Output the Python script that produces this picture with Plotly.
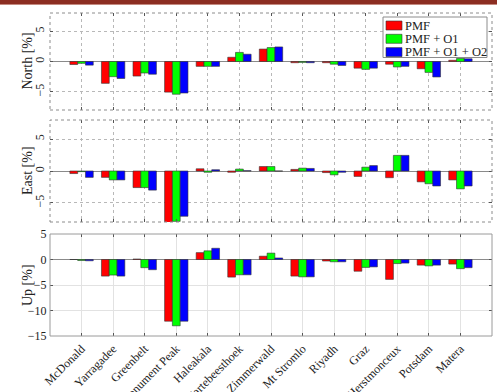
import plotly.graph_objects as go

# SLR station scale differences per component and solution
stations = ["McDonald", "Yarragadee", "Greenbelt", "Monument Peak", "Haleakala",
            "Hartebeesthoek", "Zimmerwald", "Mt Stromlo", "Riyadh", "Graz",
            "Herstmonceux", "Potsdam", "Matera"]

series_names = ["PMF", "PMF + O1", "PMF + O1 + O2"]
series_colors = ["#ff0000", "#00ff00", "#0000ff"]

north_pmf = [-0.5, -3.6, -2.4, -5.05, -0.8, 0.7, 2.05, -0.2, -0.2, -1.1, -0.45, -1.2, 0.2]
north_o1 = [-0.3, -2.5, -1.9, -5.4, -0.8, 1.5, 2.3, -0.15, -0.45, -1.3, -0.9, -1.8, 0.5]
north_o2 = [-0.6, -2.8, -2.1, -5.2, -0.8, 1.2, 2.4, -0.2, -0.65, -1.1, -0.8, -2.55, 0.45]

east_pmf = [-0.4, -1.0, -2.6, -8.5, 0.35, -0.2, 0.7, 0.25, -0.25, -0.85, -1.05, -1.7, -1.4]
east_o1 = [-0.1, -1.4, -2.6, -7.9, -0.2, 0.3, 0.7, 0.45, -0.6, 0.6, 2.45, -2.0, -2.8]
east_o2 = [-1.0, -1.4, -3.0, -7.1, 0.2, 0.05, 0.0, 0.4, -0.2, 0.85, 2.45, -2.35, -2.35]

up_pmf = [0.0, -3.25, 0.1, -12.1, 1.35, -3.45, 0.65, -3.25, -0.3, -2.3, -3.9, -1.1, -0.9]
up_o1 = [-0.2, -3.05, -1.6, -13.0, 1.7, -3.0, 1.25, -3.4, -0.45, -1.55, -0.8, -1.25, -1.8]
up_o2 = [-0.25, -3.25, -2.0, -12.1, 2.2, -3.0, 0.3, -3.4, -0.45, -1.45, -0.7, -1.1, -1.6]

panels = [
    ("North [%]", [north_pmf, north_o1, north_o2], [-8, 8], [-5, 0, 5]),
    ("East [%]", [east_pmf, east_o1, east_o2], [-8, 8], [-5, 0, 5]),
    ("Up [%]", [up_pmf, up_o1, up_o2], [-15, 5], [-15, -10, -5, 0, 5]),
]

FONT = "Liberation Serif, Times New Roman, serif"
W, H = 497, 392
ML, MR, MT, MB = 50, 5, 13, 56
plot_w = W - ML - MR
plot_h = H - MT - MB
# vertical pixel extents of each panel (top, bottom)
panel_px = [(13, 110), (120, 222), (234, 336)]


def px_x(x):
    return (x - ML) / plot_w


def px_y(y):
    return (H - MB - y) / plot_h


fig = go.Figure()

for i, (title, data, yrange, yticks) in enumerate(panels):
    ax = "" if i == 0 else str(i + 1)
    for name, color, vals in zip(series_names, series_colors, data):
        fig.add_trace(go.Bar(
            x=stations, y=vals, name=name,
            marker=dict(color=color, line=dict(color="#333333", width=0.6)),
            xaxis="x" + ax, yaxis="y" + ax,
            showlegend=False, offsetgroup=name,
        ))
    top, bot = panel_px[i]
    dom = [px_y(bot), px_y(top)]
    dotted = i < 2
    grid_kw = dict(gridcolor="#b8b8b8", griddash="dot") if dotted else dict(gridcolor="#e2e2e2")
    fig.layout["xaxis" + ax] = dict(
        domain=[0, 1], anchor="y" + ax, range=[-1, 13], type="category",
        showgrid=True, **grid_kw, gridwidth=1,
        ticks="inside", ticklen=3, tickcolor="#555555", tickwidth=1,
        showline=True, linecolor="rgba(0,0,0,0)", mirror="ticks",
        showticklabels=(i == 2), tickangle=-45, automargin=False,
        tickfont=dict(family=FONT, size=12, color="#222222"),
        matches=None if i == 0 else "x",
    )
    fig.layout["yaxis" + ax] = dict(
        domain=dom, anchor="x" + ax, range=yrange, tickvals=yticks,
        showgrid=True, **grid_kw, gridwidth=1,
        zeroline=True, zerolinecolor="#8a8a8a", zerolinewidth=1,
        ticks="inside", ticklen=3, tickcolor="#555555", tickwidth=1,
        showline=True, linecolor="rgba(0,0,0,0)", mirror="ticks",
        tickangle=-90 if dotted else 0, automargin=False,
        tickfont=dict(family=FONT, size=12, color="#222222"),
    )
    # axes box
    fig.add_shape(type="rect", xref="paper", yref="paper",
                  x0=0, x1=1, y0=dom[0], y1=dom[1],
                  line=dict(color="#8c8c8c" if dotted else "#9a9a9a", width=1,
                            dash="dot" if dotted else "solid"),
                  layer="above")
    fig.add_annotation(text=title, xref="paper", yref="paper",
                       x=px_x(27), y=(dom[0] + dom[1]) / 2,
                       xanchor="center", yanchor="middle", textangle=-90,
                       showarrow=False,
                       font=dict(family=FONT, size=14, color="#222222"))

# legend box in the upper right of the North panel
fig.add_shape(type="rect", xref="paper", yref="paper",
              x0=px_x(383), x1=px_x(487), y0=px_y(57.5), y1=px_y(17),
              line=dict(color="#8c8c8c", width=1), fillcolor="white", layer="above")
for k, (name, color) in enumerate(zip(series_names, series_colors)):
    yc = 25.5 + 13.3 * k
    fig.add_shape(type="rect", xref="paper", yref="paper",
                  x0=px_x(386), x1=px_x(402), y0=px_y(yc + 4.5), y1=px_y(yc - 4.5),
                  line=dict(color="#333333", width=0.6), fillcolor=color, layer="above")
    fig.add_annotation(text=name, xref="paper", yref="paper",
                       x=px_x(403), y=px_y(yc), xanchor="left", yanchor="middle",
                       showarrow=False,
                       font=dict(family=FONT, size=12.5, color="#222222"))

# thin banner along the top edge
fig.add_shape(type="rect", xref="paper", yref="paper",
              x0=-0.2, x1=1.2, y0=px_y(4), y1=px_y(-2),
              line=dict(width=0), fillcolor="#8c2e22", layer="above")
fig.add_shape(type="line", xref="paper", yref="paper",
              x0=-0.2, x1=1.2, y0=px_y(4.5), y1=px_y(4.5),
              line=dict(width=1, color="#c48a80"), layer="above")

fig.update_layout(
    width=W, height=H,
    margin=dict(l=ML, r=MR, t=MT, b=MB),
    paper_bgcolor="white", plot_bgcolor="white",
    barmode="group", bargap=0.26, bargroupgap=0,
    font=dict(family=FONT, size=12, color="#222222"),
    showlegend=False,
)

fig.write_html("out.html")
